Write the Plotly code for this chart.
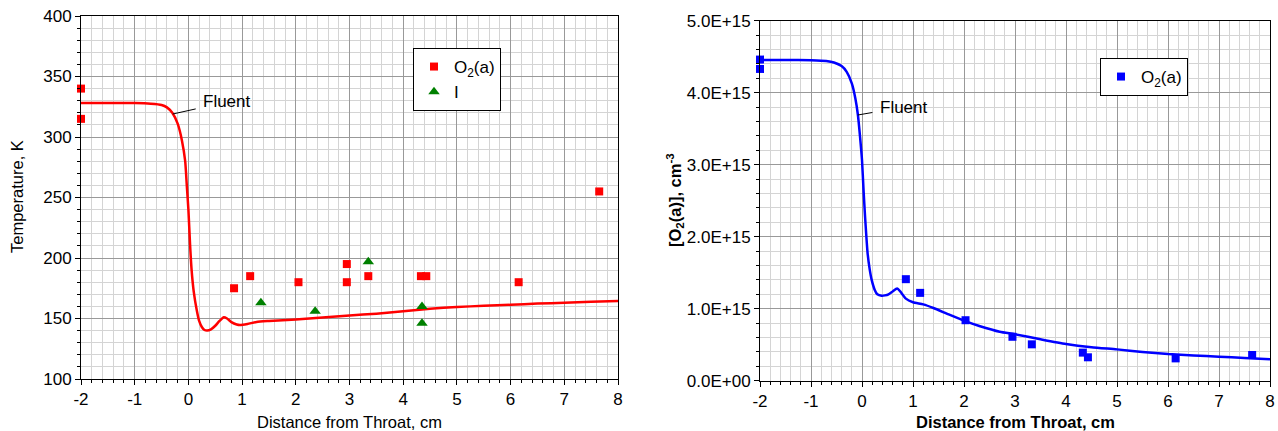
import plotly.graph_objects as go

# ---------------- data ----------------
# Left panel: temperature
fluent_T_x = [-2.0, -1.5, -1.0, -0.7, -0.5, -0.4, -0.3, -0.2, -0.12, -0.06, -0.03, 0.0, 0.03, 0.06,
              0.1, 0.155, 0.2, 0.25, 0.3, 0.35, 0.42, 0.5, 0.58, 0.66, 0.72, 0.8, 0.9, 0.96, 1.1,
              1.27, 1.5, 2.0, 2.5, 3.0, 3.5, 4.0, 4.5, 5.0, 5.5, 6.0, 6.5, 7.0, 7.5, 8.0]
fluent_T_y = [328, 328, 328, 327.5, 326.5, 324.5, 320, 311, 297, 280, 260, 240, 212, 190,
              172, 157, 148, 143, 140.5, 140, 141, 144, 148, 151, 150, 147, 145, 144.6, 145.5,
              147.2, 148, 149.2, 150.8, 152.5, 154, 156, 158, 159.5, 160.5, 161.3, 162.3, 163, 163.8, 164.5]

o2a_T_x = [-2.0, -2.0, 0.85, 1.15, 2.05, 2.95, 2.95, 3.35, 4.33, 4.43, 6.15, 7.65]
o2a_T_y = [340, 315, 175, 185, 180, 195, 180, 185, 185, 185, 180, 255]

i_T_x = [1.35, 2.36, 3.35, 4.35, 4.35]
i_T_y = [163, 156, 197, 160, 146]

# Right panel: O2(a) concentration (units of 1e15 cm-3)
fluent_n_x = [-2.0, -1.5, -1.0, -0.7, -0.55, -0.4, -0.3, -0.2, -0.13, -0.08, -0.04, 0.0, 0.03, 0.06,
              0.11, 0.15, 0.19, 0.25, 0.3, 0.385, 0.45, 0.52, 0.6, 0.69, 0.75, 0.86, 1.0, 1.2, 1.4,
              1.7, 2.05, 2.3, 2.7, 3.0, 3.5, 4.0, 4.5, 5.0, 5.5, 6.0, 6.5, 7.0, 7.5, 8.0]
fluent_n_y = [4.455, 4.455, 4.45, 4.44, 4.42, 4.37, 4.29, 4.13, 3.92, 3.69, 3.40, 3.065, 2.65, 2.28,
              1.77, 1.55, 1.40, 1.26, 1.20, 1.18, 1.185, 1.20, 1.24, 1.28, 1.24, 1.14, 1.09, 1.06, 1.01,
              0.92, 0.82, 0.76, 0.68, 0.645, 0.575, 0.51, 0.465, 0.435, 0.40, 0.37, 0.35, 0.333, 0.315, 0.297]

o2a_n_x = [-2.0, -2.0, 0.86, 1.14, 2.03, 2.95, 3.33, 4.33, 4.43, 6.15, 7.65]
o2a_n_y = [4.46, 4.33, 1.41, 1.22, 0.84, 0.61, 0.505, 0.39, 0.325, 0.31, 0.357]

x_ticks = [-2, -1, 0, 1, 2, 3, 4, 5, 6, 7, 8]
x_ticktext = ["-2", "-1", "0", "1", "2", "3", "4", "5", "6", "7", "8"]
T_ticks = [100, 150, 200, 250, 300, 350, 400]
n_tickvals = [0, 1e15, 2e15, 3e15, 4e15, 5e15]
n_ticktext = ["0.0E+00", "1.0E+15", "2.0E+15", "3.0E+15", "4.0E+15", "5.0E+15"]

# ---------------- figure ----------------
FONT = "Liberation Sans, Arial, sans-serif"
OFF = 0                      # body margin removed by post_script
W, H = 1278 - OFF, 431 - OFF
TICK = 17
TITLE = 16.5


def px(p):   # page x pixel -> paper x
    return (p - OFF) / W


def py(p):   # page y pixel (from top) -> paper y
    return 1 - (p - OFF) / H


fig = go.Figure()

fig.add_trace(go.Scatter(x=fluent_T_x, y=fluent_T_y, mode="lines",
                         line=dict(color="#ff0000", width=2.5, shape="spline", smoothing=0.6),
                         showlegend=False, xaxis="x", yaxis="y"))
fig.add_trace(go.Scatter(x=o2a_T_x, y=o2a_T_y, mode="markers", name="O<sub>2</sub>(a)",
                         marker=dict(symbol="square", size=8, color="#ff0000"),
                         xaxis="x", yaxis="y", legend="legend", cliponaxis=False))
fig.add_trace(go.Scatter(x=i_T_x, y=i_T_y, mode="markers", name="I",
                         marker=dict(symbol="triangle-up", size=10, color="#008000"),
                         xaxis="x", yaxis="y", legend="legend"))

fig.add_trace(go.Scatter(x=fluent_n_x, y=[v * 1e15 for v in fluent_n_y], mode="lines",
                         line=dict(color="#0000ff", width=2.5, shape="spline", smoothing=0.6),
                         showlegend=False, xaxis="x2", yaxis="y2"))
fig.add_trace(go.Scatter(x=o2a_n_x, y=[v * 1e15 for v in o2a_n_y], mode="markers", name="O<sub>2</sub>(a)",
                         marker=dict(symbol="square", size=8, color="#0000ff"),
                         xaxis="x2", yaxis="y2", legend="legend2", cliponaxis=False))

MAJ = "#999999"
MIN = "#d4d4d4"


def common_axis():
    return dict(showgrid=True, gridcolor=MAJ, gridwidth=1, zeroline=False, automargin=False,
                showline=True, linecolor="black", linewidth=1, mirror=True,
                ticks="outside", ticklen=5, tickcolor="black", tickwidth=1,
                ticklabeloverflow="allow",
                tickfont=dict(family=FONT, size=TICK, color="black"))


def xaxis(domain, anchor):
    d = common_axis()
    d.update(domain=domain, anchor=anchor, range=[-2, 8], tickvals=x_ticks, ticktext=x_ticktext,
             minor=dict(dtick=0.2, showgrid=True, gridcolor=MIN, gridwidth=1,
                        ticks="outside", ticklen=3, tickcolor="black"))
    return d


yax1 = common_axis()
yax1.update(domain=[py(379), py(16)], anchor="x", range=[100, 400], tickvals=T_ticks,
            minor=dict(dtick=10, showgrid=True, gridcolor=MIN, gridwidth=1,
                       ticks="outside", ticklen=3, tickcolor="black"))
yax2 = common_axis()
yax2.update(domain=[py(380.7), py(20.7)], anchor="x2", range=[0, 5e15],
            tickvals=n_tickvals, ticktext=n_ticktext,
            minor=dict(dtick=0.2e15, showgrid=True, gridcolor=MIN, gridwidth=1,
                       ticks="outside", ticklen=3, tickcolor="black"))

fig.update_layout(
    template="none",
    width=W, height=H, margin=dict(l=0, r=0, t=0, b=0, pad=0, autoexpand=False),
    paper_bgcolor="white", plot_bgcolor="white",
    font=dict(family=FONT, size=TICK, color="black"),
    xaxis=xaxis([px(81), px(618)], "y"),
    yaxis=yax1,
    xaxis2=xaxis([px(760), px(1270)], "y2"),
    yaxis2=yax2,
    legend=dict(x=px(413), y=py(48), xanchor="left", yanchor="top",
                bordercolor="black", borderwidth=1, bgcolor="white",
                font=dict(family=FONT, size=TICK), itemwidth=30, tracegroupgap=0),
    legend2=dict(x=px(1100), y=py(58), xanchor="left", yanchor="top",
                 bordercolor="black", borderwidth=1, bgcolor="white",
                 font=dict(family=FONT, size=TICK), itemwidth=30),
)

annotations = [
    # axis titles
    dict(text="Distance from Throat, cm", xref="paper", yref="paper",
         x=px((81 + 618) / 2), y=py(422), showarrow=False,
         font=dict(family=FONT, size=TITLE), xanchor="center", yanchor="middle"),
    dict(text="Temperature, K", xref="paper", yref="paper",
         x=px(17), y=py(197), showarrow=False, textangle=-90,
         font=dict(family=FONT, size=TITLE), xanchor="center", yanchor="middle"),
    dict(text="<b>Distance from Throat, cm</b>", xref="paper", yref="paper",
         x=px((760 + 1270) / 2), y=py(422), showarrow=False,
         font=dict(family=FONT, size=TITLE), xanchor="center", yanchor="middle"),
    dict(text="<b>[O<sub>2</sub>(a)], cm<sup>-3</sup></b>", xref="paper", yref="paper",
         x=px(675), y=py(200), showarrow=False, textangle=-90,
         font=dict(family=FONT, size=TITLE), xanchor="center", yanchor="middle"),
    # Fluent labels
    dict(text="Fluent", xref="x", yref="y", x=-0.29, y=319, axref="x", ayref="y",
         ax=0.72, ay=329, showarrow=True, arrowhead=0, arrowwidth=1, arrowcolor="black",
         startstandoff=6, font=dict(family=FONT, size=TICK)),
    dict(text="Fluent", xref="x2", yref="y2", x=-0.084, y=3.69e15, axref="x2", ayref="y2",
         ax=0.82, ay=3.80e15, showarrow=True, arrowhead=0, arrowwidth=1, arrowcolor="black",
         startstandoff=6, font=dict(family=FONT, size=TICK)),
]
fig.update_layout(annotations=annotations)

fig.write_html("out.html",
               config={"displayModeBar": False},
               post_script="document.body.style.margin='0';document.body.style.overflow='hidden';")
